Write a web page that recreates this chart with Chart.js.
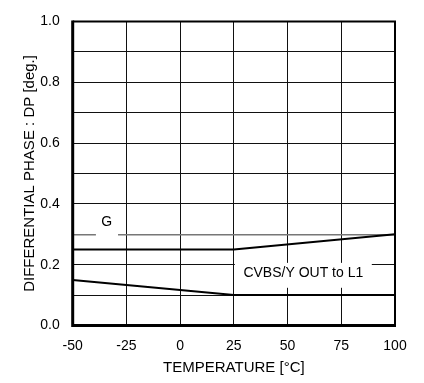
<!DOCTYPE html>
<html lang="en">
<head>
    <meta charset="UTF-8">
    <title>Differential Phase vs Temperature</title>
    <style>
        body {
            margin: 0;
            padding: 0;
            background-color: white;
        }
        #dpChart {
            display: block;
        }
    </style>
    <script src="https://cdn.jsdelivr.net/npm/chart.js"></script>
</head>
<body>
    <canvas id="dpChart" width="424" height="383"></canvas>

    <script>
        // Chart data
        const temperatures = [-50, 25, 100];
        const dpG = [0.25, 0.25, 0.30];
        const dpCvbsL1 = [0.15, 0.10, 0.10];

        const xTickValues = [-50, -25, 0, 25, 50, 75, 100];
        const yTickValues = [0, 0.1, 0.2, 0.3, 0.4, 0.5, 0.6, 0.7, 0.8, 0.9, 1.0];
        const yTickLabels = ['0.0', '', '0.2', '', '0.4', '', '0.6', '', '0.8', '', '1.0'];

        const FONT = "'Liberation Sans', Arial, sans-serif";

        // White boxes with text that sit over the grid (like the original)
        const labelPlugin = {
            id: 'curveLabels',
            beforeDatasetsDraw(chart) {
                const { ctx, scales: { x, y } } = chart;
                ctx.save();
                ctx.fillStyle = 'white';

                // gap in the 0.3 line under "G"
                const gx1 = x.getPixelForValue(-39.2), gx2 = x.getPixelForValue(-28.9);
                ctx.fillRect(gx1, y.getPixelForValue(0.32), gx2 - gx1, y.getPixelForValue(0.29) - y.getPixelForValue(0.32));

                // box behind "CVBS/Y OUT to L1"
                const bx1 = x.getPixelForValue(25) + 1, bx2 = x.getPixelForValue(89.2);
                const by1 = y.getPixelForValue(0.206), by2 = y.getPixelForValue(0.124);
                ctx.fillRect(bx1, by1, bx2 - bx1, by2 - by1);

                ctx.fillStyle = '#000';
                ctx.font = '14px ' + FONT;
                ctx.textAlign = 'center';
                ctx.textBaseline = 'middle';
                ctx.fillText('G', x.getPixelForValue(-34.2), y.getPixelForValue(0.339));
                ctx.fillText('CVBS/Y OUT to L1', (bx1 + bx2) / 2, y.getPixelForValue(0.172));
                ctx.restore();
            },
            afterDatasetsDraw(chart) {
                const { ctx, chartArea: a } = chart;
                ctx.save();
                ctx.strokeStyle = '#000';
                // top and right edges
                ctx.lineWidth = 2;
                ctx.beginPath();
                ctx.moveTo(a.left, a.top);
                ctx.lineTo(a.right, a.top);
                ctx.lineTo(a.right, a.bottom);
                ctx.stroke();
                // left and bottom edges are heavier
                ctx.lineWidth = 3;
                ctx.beginPath();
                ctx.moveTo(a.left, a.top - 1);
                ctx.lineTo(a.left, a.bottom);
                ctx.lineTo(a.right + 1, a.bottom);
                ctx.stroke();
                ctx.restore();
            }
        };

        new Chart(document.getElementById('dpChart'), {
            type: 'line',
            data: {
                datasets: [
                    {
                        label: 'G',
                        data: temperatures.map((t, i) => ({ x: t, y: dpG[i] })),
                        borderColor: '#000',
                        borderWidth: 2,
                        pointRadius: 0,
                        tension: 0
                    },
                    {
                        label: 'CVBS/Y OUT to L1',
                        data: temperatures.map((t, i) => ({ x: t, y: dpCvbsL1[i] })),
                        borderColor: '#000',
                        borderWidth: 2,
                        pointRadius: 0,
                        tension: 0
                    }
                ]
            },
            options: {
                responsive: false,
                animation: false,
                layout: {
                    padding: { left: 0, top: 16, right: 29, bottom: 0 }
                },
                plugins: {
                    legend: { display: false },
                    tooltip: { enabled: false }
                },
                scales: {
                    x: {
                        type: 'linear',
                        min: -50,
                        max: 100,
                        afterBuildTicks: scale => {
                            scale.ticks = xTickValues.map(v => ({ value: v }));
                        },
                        afterFit: scale => { scale.height = 57.5; },
                        border: { display: false },
                        grid: {
                            color: '#111',
                            lineWidth: 1,
                            drawTicks: false
                        },
                        ticks: {
                            color: '#000',
                            padding: 12,
                            maxRotation: 0,
                            font: { family: FONT, size: 14 }
                        },
                        title: {
                            display: true,
                            text: 'TEMPERATURE [\u00b0C]',
                            color: '#000',
                            padding: { top: 0, bottom: 6 },
                            font: { family: FONT, size: 15 }
                        }
                    },
                    y: {
                        min: 0,
                        max: 1,
                        afterBuildTicks: scale => {
                            scale.ticks = yTickValues.map(v => ({ value: v }));
                        },
                        afterFit: scale => { scale.width = 72.7; },
                        border: { display: false },
                        grid: {
                            color: c => (Math.abs(c.tick.value - 0.3) < 1e-6 ? '#777' : '#111'),
                            lineWidth: c => (Math.abs(c.tick.value - 0.3) < 1e-6 ? 1.5 : 1),
                            drawTicks: false
                        },
                        ticks: {
                            color: '#000',
                            padding: 13,
                            font: { family: FONT, size: 14 },
                            callback: (value, index) => yTickLabels[index]
                        },
                        title: {
                            display: true,
                            text: 'DIFFERENTIAL PHASE : DP [deg.]',
                            color: '#000',
                            padding: { top: 21, bottom: 0 },
                            font: { family: FONT, size: 15 }
                        }
                    }
                }
            },
            plugins: [labelPlugin]
        });
    </script>
</body>
</html>
